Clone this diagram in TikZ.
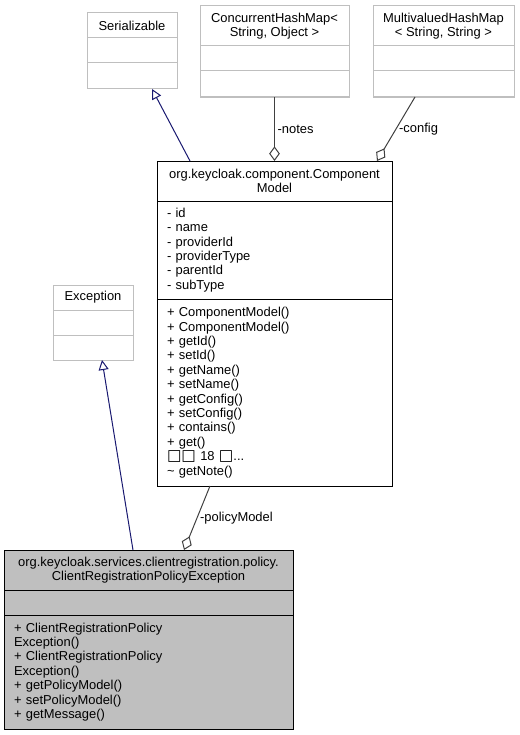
\documentclass[tikz,border=0pt]{standalone}
\usepackage{fontspec}
\setmainfont{Liberation Sans}
\newfontfamily\symfont{DejaVu Sans}
\usetikzlibrary{positioning,calc,arrows.meta}

\definecolor{randgrau}{HTML}{BFBFBF}
\definecolor{fuellgrau}{HTML}{BFBFBF}
\definecolor{erbblau}{HTML}{191970}
\definecolor{liniengrau}{HTML}{404040}

\begin{document}
\begin{tikzpicture}
		[
		x=0.75pt, y=-0.75pt, line width=0.75pt, font=\fontsize{9.7}{10.8}\selectfont,
		%Voreinstellungen fuer Klassenkaesten
		kasten/.style={rectangle, draw=randgrau, fill=white, inner sep=0pt, outer sep=0pt, minimum width=#1},
		hauptkasten/.style={kasten=#1, draw=black},
		titel/.style={align=center, minimum height=30pt},
		leer/.style={minimum height=18.75pt},
		glieder/.style={align=left, inner xsep=7.5pt, text width=#1},
		%Pfeile
		erbt/.style={draw=erbblau, -{Triangle[open, length=7.5pt, width=7.5pt]}},
		aggr/.style={draw=liniengrau, {Diamond[open, length=11pt, width=8pt]}-},
		beschr/.style={anchor=west, inner sep=2pt, text=black}
		]
		
		%Rahmen
		\useasboundingbox (0,0) rectangle (520,735);
		
		%Klasse Serializable
		\node[kasten=67.5pt, leer, anchor=north west] (serT) at (87,13) {Serializable};
		\node[kasten=67.5pt, leer, below=0pt of serT] (serA) {};
		\node[kasten=67.5pt, minimum height=19.5pt, below=0pt of serA] (serM) {};
		
		%Klasse ConcurrentHashMap
		\node[kasten=111.75pt, titel, anchor=north west] (chmT) at (200,6) {ConcurrentHashMap<\\String, Object >};
		\node[kasten=111.75pt, leer, below=0pt of chmT] (chmA) {};
		\node[kasten=111.75pt, minimum height=19.5pt, below=0pt of chmA] (chmM) {};
		
		%Klasse MultivaluedHashMap
		\node[kasten=105.75pt, titel, anchor=north west] (mvmT) at (373,6) {MultivaluedHashMap\\< String, String >};
		\node[kasten=105.75pt, leer, below=0pt of mvmT] (mvmA) {};
		\node[kasten=105.75pt, minimum height=19.5pt, below=0pt of mvmA] (mvmM) {};
		
		%Klasse ComponentModel
		\node[hauptkasten=176.25pt, titel, anchor=north west] (cmT) at (157,161) {org.keycloak.component.Component\\Model};
		\node[hauptkasten=176.25pt, glieder=161.25pt, minimum height=73.5pt, below=0pt of cmT] (cmA)
		{- id\\- name\\- providerId\\- providerType\\- parentId\\- subType};
		\node[hauptkasten=176.25pt, glieder=161.25pt, minimum height=140.25pt, below=0pt of cmA] (cmM)
		{+ ComponentModel()\\+ ComponentModel()\\+ getId()\\+ setId()\\+ getName()\\+ setName()\\+ getConfig()\\+ setConfig()\\+ contains()\\+ get()\\\smash{\symfont\fontsize{11.5}{10}\selectfont □□} 18 \smash{\symfont\fontsize{11.5}{10}\selectfont □}...\\\textasciitilde{} getNote()};
		
		%Klasse Exception
		\node[kasten=60pt, leer, anchor=north west] (excT) at (53,285) {Exception};
		\node[kasten=60pt, leer, below=0pt of excT] (excA) {};
		\node[kasten=60pt, leer, below=0pt of excA] (excM) {};
		
		%Klasse ClientRegistrationPolicyException
		\node[hauptkasten=216.75pt, fill=fuellgrau, titel, anchor=north west] (cpeT) at (4,550)
		{org.keycloak.services.clientregistration.policy.\\ClientRegistrationPolicyException};
		\node[hauptkasten=216.75pt, fill=fuellgrau, leer, below=0pt of cpeT] (cpeA) {};
		\node[hauptkasten=216.75pt, fill=fuellgrau, glieder=201.75pt, minimum height=85.5pt, below=0pt of cpeA] (cpeM)
		{+ ClientRegistrationPolicy\\Exception()\\+ ClientRegistrationPolicy\\Exception()\\+ getPolicyModel()\\+ setPolicyModel()\\+ getMessage()};
		
		%Vererbung Serializable
		\draw[erbt] ($(cmT.north west)+(33,0)$) -- ($(serM.south west)+(65,0)$);
		
		%Aggregation notes
		\draw[aggr] (cmT.north) -- (chmM.south) node[beschr, midway] {-notes};
		
		%Aggregation config
		\draw[aggr] ($(cmT.north west)+(220,0)$) -- ($(mvmM.south west)+(42,0)$) node[beschr, midway] {-config};
		
		%Vererbung Exception
		\draw[erbt] ($(cpeT.north west)+(129,0)$) -- ($(excM.south west)+(49,0)$);
		
		%Aggregation policyModel
		\draw[aggr] ($(cpeT.north west)+(180,0)$) -- ($(cmM.south west)+(53,0)$) node[beschr, midway] {-policyModel};
	\end{tikzpicture}
\end{document}
